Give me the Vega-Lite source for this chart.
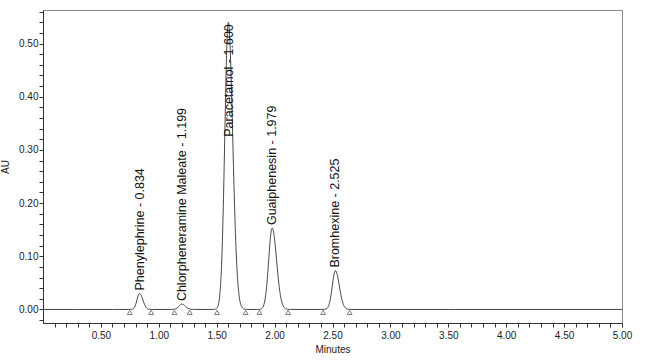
{
  "$schema": "https://vega.github.io/schema/vega-lite/v6.json",
  "autosize": "none",
  "width": 579,
  "height": 313,
  "padding": {"left": 43, "top": 10, "right": 31, "bottom": 38},
  "background": "white",
  "config": {
    "view": {"stroke": "#8a8a8a", "strokeWidth": 1},
    "font": "Liberation Sans",
    "axis": {
      "domainColor": "#333",
      "tickColor": "#333",
      "labelColor": "#222",
      "titleColor": "#222",
      "labelFont": "Liberation Sans",
      "titleFont": "Liberation Sans",
      "labelFontSize": 10,
      "titleFontSize": 10,
      "titleFontWeight": "normal",
      "grid": false,
      "tickSize": 4
    }
  },
  "datasets": {
    "trace": [
      {"t": 0.0, "au": 0.0}, {"t": 0.3, "au": 0.0}, {"t": 0.6, "au": 0.0}, {"t": 0.74, "au": 0.0},
      {"t": 0.757, "au": 0.0001}, {"t": 0.768, "au": 0.0003}, {"t": 0.779, "au": 0.0013}, {"t": 0.79, "au": 0.0041},
      {"t": 0.801, "au": 0.0097}, {"t": 0.812, "au": 0.0182}, {"t": 0.823, "au": 0.0265}, {"t": 0.834, "au": 0.030},
      {"t": 0.848, "au": 0.0265}, {"t": 0.862, "au": 0.0182}, {"t": 0.876, "au": 0.0097}, {"t": 0.89, "au": 0.0041},
      {"t": 0.904, "au": 0.0013}, {"t": 0.918, "au": 0.0003}, {"t": 0.935, "au": 0.0},
      {"t": 1.1, "au": 0.0},
      {"t": 1.124, "au": 0.0001}, {"t": 1.149, "au": 0.0014}, {"t": 1.1615, "au": 0.0032}, {"t": 1.174, "au": 0.0061},
      {"t": 1.1865, "au": 0.0088}, {"t": 1.199, "au": 0.010}, {"t": 1.214, "au": 0.0088}, {"t": 1.229, "au": 0.0061},
      {"t": 1.244, "au": 0.0032}, {"t": 1.259, "au": 0.0014}, {"t": 1.289, "au": 0.0001}, {"t": 1.31, "au": 0.0},
      {"t": 1.46, "au": 0.0},
      {"t": 1.48, "au": 0.0002}, {"t": 1.495, "au": 0.0012}, {"t": 1.51, "au": 0.006}, {"t": 1.525, "au": 0.0237},
      {"t": 1.54, "au": 0.0731}, {"t": 1.5475, "au": 0.1168}, {"t": 1.555, "au": 0.1753}, {"t": 1.5625, "au": 0.2472},
      {"t": 1.57, "au": 0.3275}, {"t": 1.5775, "au": 0.4076}, {"t": 1.585, "au": 0.4766}, {"t": 1.5925, "au": 0.5233},
      {"t": 1.6, "au": 0.54},
      {"t": 1.6095, "au": 0.5233}, {"t": 1.619, "au": 0.4766}, {"t": 1.6285, "au": 0.4076}, {"t": 1.638, "au": 0.3275},
      {"t": 1.6475, "au": 0.2472}, {"t": 1.657, "au": 0.1753}, {"t": 1.6665, "au": 0.1168}, {"t": 1.676, "au": 0.0731},
      {"t": 1.695, "au": 0.0237}, {"t": 1.714, "au": 0.006}, {"t": 1.733, "au": 0.0012}, {"t": 1.752, "au": 0.0002},
      {"t": 1.77, "au": 0.0}, {"t": 1.84, "au": 0.0},
      {"t": 1.859, "au": 0.0}, {"t": 1.874, "au": 0.0003}, {"t": 1.889, "au": 0.0017}, {"t": 1.904, "au": 0.0067},
      {"t": 1.919, "au": 0.0207}, {"t": 1.9265, "au": 0.0331}, {"t": 1.934, "au": 0.0497}, {"t": 1.9415, "au": 0.07},
      {"t": 1.949, "au": 0.0928}, {"t": 1.9565, "au": 0.1155}, {"t": 1.964, "au": 0.135}, {"t": 1.9715, "au": 0.1483},
      {"t": 1.979, "au": 0.153},
      {"t": 1.9885, "au": 0.1483}, {"t": 1.998, "au": 0.135}, {"t": 2.0075, "au": 0.1155}, {"t": 2.017, "au": 0.0928},
      {"t": 2.0265, "au": 0.07}, {"t": 2.036, "au": 0.0497}, {"t": 2.0455, "au": 0.0331}, {"t": 2.055, "au": 0.0207},
      {"t": 2.074, "au": 0.0067}, {"t": 2.093, "au": 0.0017}, {"t": 2.112, "au": 0.0003}, {"t": 2.13, "au": 0.0},
      {"t": 2.4, "au": 0.0},
      {"t": 2.4305, "au": 0.0002}, {"t": 2.444, "au": 0.0008}, {"t": 2.4575, "au": 0.0032}, {"t": 2.471, "au": 0.0099},
      {"t": 2.4845, "au": 0.0237}, {"t": 2.4913, "au": 0.0334}, {"t": 2.498, "au": 0.0443}, {"t": 2.5048, "au": 0.0551},
      {"t": 2.5115, "au": 0.0644}, {"t": 2.5183, "au": 0.0707}, {"t": 2.525, "au": 0.073},
      {"t": 2.5335, "au": 0.0707}, {"t": 2.542, "au": 0.0644}, {"t": 2.5505, "au": 0.0551}, {"t": 2.559, "au": 0.0443},
      {"t": 2.5675, "au": 0.0334}, {"t": 2.576, "au": 0.0237}, {"t": 2.593, "au": 0.0099}, {"t": 2.61, "au": 0.0032},
      {"t": 2.627, "au": 0.0008}, {"t": 2.644, "au": 0.0002}, {"t": 2.66, "au": 0.0},
      {"t": 3.5, "au": 0.0}, {"t": 5.0, "au": 0.0}
    ],
    "marks": [
      {"t": 0.749}, {"t": 0.934}, {"t": 1.135}, {"t": 1.267}, {"t": 1.503},
      {"t": 1.75}, {"t": 1.869}, {"t": 2.116}, {"t": 2.419}, {"t": 2.648}
    ],
    "labels": [
      {"name": "Phenylephrine - 0.834", "t": 0.834, "au": 0.030},
      {"name": "Chlorpheneramine Maleate - 1.199", "t": 1.199, "au": 0.010},
      {"name": "Paracetamol - 1.600", "t": 1.603, "au": 0.319},
      {"name": "Guaiphenesin - 1.979", "t": 1.979, "au": 0.153},
      {"name": "Bromhexine - 2.525", "t": 2.525, "au": 0.073}
    ]
  },
  "layer": [
    {
      "data": {"name": "trace"},
      "mark": {"type": "line", "interpolate": "monotone", "color": "#333333", "strokeWidth": 0.9, "clip": true},
      "encoding": {
        "x": {
          "field": "t", "type": "quantitative",
          "scale": {"domain": [0, 5], "nice": false, "zero": false},
          "axis": {
            "title": "Minutes",
            "tickCount": 200,
            "values": [0.1,0.2,0.3,0.4,0.5,0.6,0.7,0.8,0.9,1.0,1.1,1.2,1.3,1.4,1.5,1.6,1.7,1.8,1.9,2.0,2.1,2.2,2.3,2.4,2.5,2.6,2.7,2.8,2.9,3.0,3.1,3.2,3.3,3.4,3.5,3.6,3.7,3.8,3.9,4.0,4.1,4.2,4.3,4.4,4.5,4.6,4.7,4.8,4.9,5.0],
            "labelExpr": "abs(datum.value*2 - round(datum.value*2)) < 0.001 ? format(datum.value, '.2f') : ''",
            "labelPadding": 3,
            "titlePadding": 4,
            "labelFlush": false,
            "labelOverlap": false
          }
        },
        "y": {
          "field": "au", "type": "quantitative",
          "scale": {"domain": [-0.0255, 0.563], "nice": false, "zero": false},
          "axis": {
            "title": "AU",
            "tickCount": 200,
            "values": [-0.02,0,0.02,0.04,0.06,0.08,0.1,0.12,0.14,0.16,0.18,0.2,0.22,0.24,0.26,0.28,0.3,0.32,0.34,0.36,0.38,0.4,0.42,0.44,0.46,0.48,0.5,0.52,0.54,0.56],
            "labelExpr": "(datum.value >= 0 && abs(datum.value*10 - round(datum.value*10)) < 0.001) ? format(datum.value, '.2f') : ''",
            "labelPadding": 1,
            "titlePadding": 8,
            "labelFlush": false,
            "labelOverlap": false
          }
        }
      }
    },
    {
      "data": {"name": "marks"},
      "mark": {"type": "point", "shape": "triangle-up", "filled": false, "stroke": "#333", "strokeWidth": 0.9, "size": 24, "yOffset": 3},
      "encoding": {
        "x": {"field": "t", "type": "quantitative"},
        "y": {"datum": 0, "type": "quantitative"}
      }
    },
    {
      "data": {"name": "labels"},
      "mark": {"type": "text", "angle": 270, "align": "left", "baseline": "middle", "dx": 3, "fontSize": 12.5, "font": "Liberation Sans", "color": "#111"},
      "encoding": {
        "x": {"field": "t", "type": "quantitative"},
        "y": {"field": "au", "type": "quantitative"},
        "text": {"field": "name"}
      }
    }
  ]
}
